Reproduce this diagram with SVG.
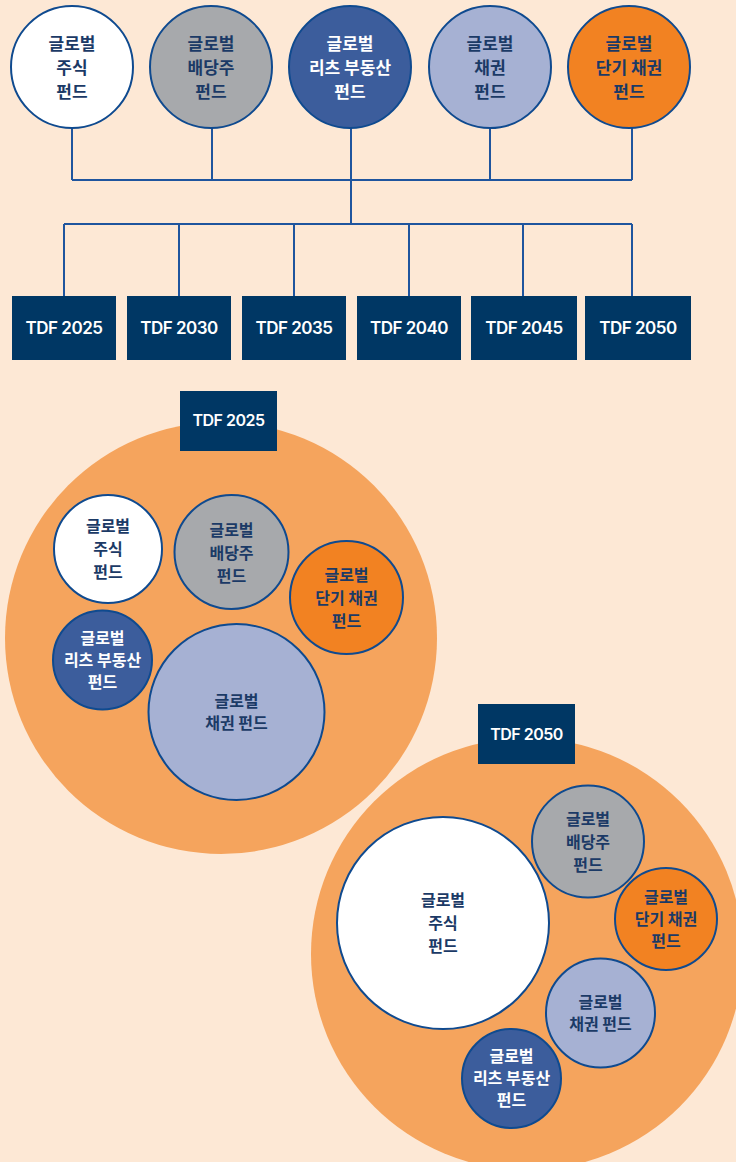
<svg xmlns="http://www.w3.org/2000/svg" width="736" height="1162" viewBox="0 0 736 1162">
<style>
.bg{fill:#fde8d5}
.fund{stroke:#0f4a8f;stroke-width:2}
.w{fill:#ffffff}.g{fill:#a7a9ac}.db{fill:#3c5d9c}.lb{fill:#a6b1d3}.or{fill:#f28222}
.big{fill:#f5a45d}
.box{fill:#003764}
.t{font-family:"Noto Sans CJK KR","Noto Sans",sans-serif;font-weight:700;fill:#1b3a66;text-anchor:middle}
.tw{fill:#ffffff}
.t1{font-size:17px}
.t2{font-size:16px}
.tdf{font-family:Inter,"Liberation Sans",sans-serif;font-weight:600;fill:#ffffff;text-anchor:middle;font-size:17px;letter-spacing:-0.5px}
.tdf2{font-size:16px}
.ln{fill:none;stroke:#1f559e;stroke-width:2}
</style>
<rect class="bg" x="0" y="0" width="736" height="1162"/>

<g id="connectors">
<path class="ln" d="M72 128V180M212 128V180M351 128V224M490 128V180M632 128V180M72 180H632"/>
<path class="ln" d="M64 224H632M64 224V296M179 224V296M294 224V296M409 224V296M523 224V296M632 224V296"/>
</g>

<g id="fund-equity"><circle class="fund w" cx="72" cy="67" r="61"/><text class="t t1" x="72" y="50">글로벌</text><text class="t t1" x="72" y="74">주식</text><text class="t t1" x="72" y="98">펀드</text></g>
<g id="fund-dividend"><circle class="fund g" cx="211" cy="67" r="61"/><text class="t t1" x="211" y="50">글로벌</text><text class="t t1" x="211" y="74">배당주</text><text class="t t1" x="211" y="98">펀드</text></g>
<g id="fund-reits"><circle class="fund db" cx="350" cy="67" r="61"/><text class="t t1 tw" x="350" y="50">글로벌</text><text class="t t1 tw" x="350" y="74">리츠 부동산</text><text class="t t1 tw" x="350" y="98">펀드</text></g>
<g id="fund-bond"><circle class="fund lb" cx="490" cy="67" r="61"/><text class="t t1" x="490" y="50">글로벌</text><text class="t t1" x="490" y="74">채권</text><text class="t t1" x="490" y="98">펀드</text></g>
<g id="fund-short"><circle class="fund or" cx="629" cy="67" r="61"/><text class="t t1" x="629" y="50">글로벌</text><text class="t t1" x="629" y="74">단기 채권</text><text class="t t1" x="629" y="98">펀드</text></g>

<g id="tdf2025"><rect class="box" x="12" y="296" width="104" height="64"/><text class="tdf" x="64" y="334">TDF 2025</text></g>
<g id="tdf2030"><rect class="box" x="127" y="296" width="104" height="64"/><text class="tdf" x="179" y="334">TDF 2030</text></g>
<g id="tdf2035"><rect class="box" x="242" y="296" width="104" height="64"/><text class="tdf" x="294" y="334">TDF 2035</text></g>
<g id="tdf2040"><rect class="box" x="357" y="296" width="104" height="64"/><text class="tdf" x="409" y="334">TDF 2040</text></g>
<g id="tdf2045"><rect class="box" x="471" y="296" width="106" height="64"/><text class="tdf" x="524" y="334">TDF 2045</text></g>
<g id="tdf2050"><rect class="box" x="585" y="296" width="106" height="64"/><text class="tdf" x="638" y="334">TDF 2050</text></g>

<g id="mix2025">
<circle class="big" cx="221" cy="638" r="216"/>
<rect class="box" x="180" y="391" width="97" height="60"/><text class="tdf tdf2" x="228.5" y="426">TDF 2025</text>
<g id="m25-equity"><circle class="fund w" cx="108" cy="549" r="54"/><text class="t t2" x="108" y="532">글로벌</text><text class="t t2" x="108" y="555">주식</text><text class="t t2" x="108" y="578">펀드</text></g>
<g id="m25-dividend"><circle class="fund g" cx="231.5" cy="552" r="57"/><text class="t t2" x="231.5" y="536">글로벌</text><text class="t t2" x="231.5" y="559">배당주</text><text class="t t2" x="231.5" y="582">펀드</text></g>
<g id="m25-short"><circle class="fund or" cx="346.5" cy="597.5" r="56.5"/><text class="t t2" x="346.5" y="581">글로벌</text><text class="t t2" x="346.5" y="604">단기 채권</text><text class="t t2" x="346.5" y="627">펀드</text></g>
<g id="m25-reits"><circle class="fund db" cx="102.5" cy="660" r="49.5"/><text class="t t2 tw" x="102.5" y="644">글로벌</text><text class="t t2 tw" x="102.5" y="666">리츠 부동산</text><text class="t t2 tw" x="102.5" y="688">펀드</text></g>
<g id="m25-bond"><circle class="fund lb" cx="236.5" cy="712" r="88"/><text class="t t2" x="236.5" y="707">글로벌</text><text class="t t2" x="236.5" y="729">채권 펀드</text></g>
</g>

<g id="mix2050">
<circle class="big" cx="527" cy="954" r="216"/>
<rect class="box" x="478" y="704" width="97" height="60"/><text class="tdf tdf2" x="526.5" y="740">TDF 2050</text>
<g id="m50-equity"><circle class="fund w" cx="443" cy="923" r="106"/><text class="t t2" x="443" y="906">글로벌</text><text class="t t2" x="443" y="929">주식</text><text class="t t2" x="443" y="952">펀드</text></g>
<g id="m50-dividend"><circle class="fund g" cx="588" cy="841.5" r="56"/><text class="t t2" x="588" y="825">글로벌</text><text class="t t2" x="588" y="848">배당주</text><text class="t t2" x="588" y="871">펀드</text></g>
<g id="m50-short"><circle class="fund or" cx="666" cy="919" r="51"/><text class="t t2" x="666" y="903">글로벌</text><text class="t t2" x="666" y="925">단기 채권</text><text class="t t2" x="666" y="947">펀드</text></g>
<g id="m50-bond"><circle class="fund lb" cx="600.5" cy="1013" r="54.5"/><text class="t t2" x="600.5" y="1008">글로벌</text><text class="t t2" x="600.5" y="1030">채권 펀드</text></g>
<g id="m50-reits"><circle class="fund db" cx="511.5" cy="1078.5" r="49.5"/><text class="t t2 tw" x="511.5" y="1062">글로벌</text><text class="t t2 tw" x="511.5" y="1084">리츠 부동산</text><text class="t t2 tw" x="511.5" y="1106">펀드</text></g>
</g>
</svg>
